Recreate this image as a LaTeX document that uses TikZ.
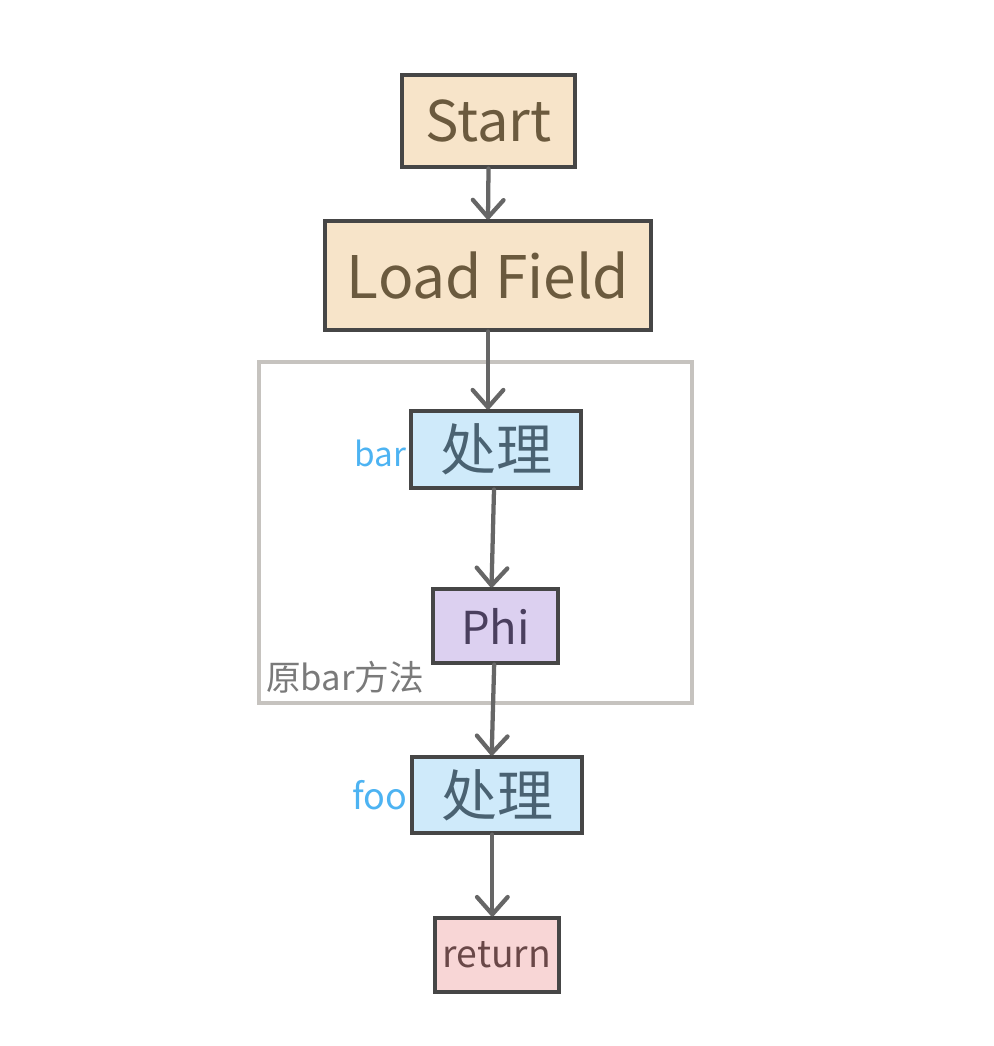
\documentclass[tikz,border=0pt]{standalone}
\usepackage{fontspec}
\newfontfamily\cjk{Noto Sans CJK SC}
\usetikzlibrary{arrows.meta}
\definecolor{boxline}{HTML}{464646}
\definecolor{arrowc}{HTML}{666666}
\definecolor{framec}{HTML}{C6C3BF}
\definecolor{orangef}{HTML}{F7E4C9}
\definecolor{bluef}{HTML}{CFEAFA}
\definecolor{purplef}{HTML}{DCD0F0}
\definecolor{pinkf}{HTML}{F8D6D6}
\definecolor{browntext}{HTML}{6B5A3E}
\definecolor{slatetext}{HTML}{4A6272}
\definecolor{purpletext}{HTML}{4A3F5E}
\definecolor{redtext}{HTML}{6A4848}
\definecolor{labelblue}{HTML}{4DB3F2}
\definecolor{graytext}{HTML}{7A7A7A}
\tikzset{
  box/.style={draw=boxline, line width=2.3pt, rectangle, inner sep=0pt, align=center, font=\cjk},
  flowarrow/.style={draw=arrowc, line width=3.2pt, line cap=round, -{Straight Barb[length=13pt,width=23pt,line cap=round,line join=round]}},
  sidelabel/.style={text=labelblue, font=\cjk, inner sep=2pt},
}
\begin{document}
\begin{tikzpicture}[x=0.75pt, y=-0.75pt]
\useasboundingbox (0,0) rectangle (994,1046);
% frame
\node[draw=framec, line width=2.4pt, rectangle, minimum width=324.75pt, minimum height=255.75pt, inner sep=0pt] (frame) at (475.5,532.5) {};
\node[anchor=south west, text=graytext, font=\cjk\fontsize{26}{30}\selectfont, inner sep=0pt] (framelabel) at (266,694) {原bar方法};
% nodes
\node[box, fill=orangef, text=browntext, minimum width=129.75pt, minimum height=69pt, font=\cjk\fontsize{42}{44}\selectfont] (start) at (488.5,121) {Start};
\node[box, fill=orangef, text=browntext, minimum width=244.5pt, minimum height=81.75pt, font=\cjk\fontsize{44}{48}\selectfont] (load) at (488,275.5) {Load Field};
\node[box, fill=bluef, text=slatetext, minimum width=127.5pt, minimum height=57.75pt, font=\cjk\fontsize{42}{46}\selectfont] (bar) at (496,449.5) {处理};
\node[box, fill=purplef, text=purpletext, minimum width=93.75pt, minimum height=55.5pt, font=\cjk\fontsize{34}{38}\selectfont] (phi) at (495.5,626) {Phi};
\node[box, fill=bluef, text=slatetext, minimum width=127.5pt, minimum height=57pt, font=\cjk\fontsize{42}{46}\selectfont] (foo) at (497,795) {处理};
\node[box, fill=pinkf, text=redtext, minimum width=93pt, minimum height=55.5pt, font=\cjk\fontsize{28}{32}\selectfont] (ret) at (497,955) {return};
% side labels
\node[sidelabel, anchor=east, font=\cjk\fontsize{25}{28}\selectfont] (barlabel) at ([yshift=-3pt]bar.west) {bar};
\node[sidelabel, anchor=east, font=\cjk\fontsize{27}{30}\selectfont] (foolabel) at (foo.west) {foo};
% arrows
\draw[flowarrow] (start.south) -- (load.north);
\draw[flowarrow] (load.south) -- (load.south |- bar.north);
\draw[flowarrow] ([xshift=-1.5pt]bar.south) -- ([xshift=-3pt]phi.north);
\draw[flowarrow] ([xshift=-1pt]phi.south) -- ([xshift=-4pt]foo.north);
\draw[flowarrow] ([xshift=-3.5pt]foo.south) -- ([xshift=-3.5pt]ret.north);
\end{tikzpicture}
\end{document}
